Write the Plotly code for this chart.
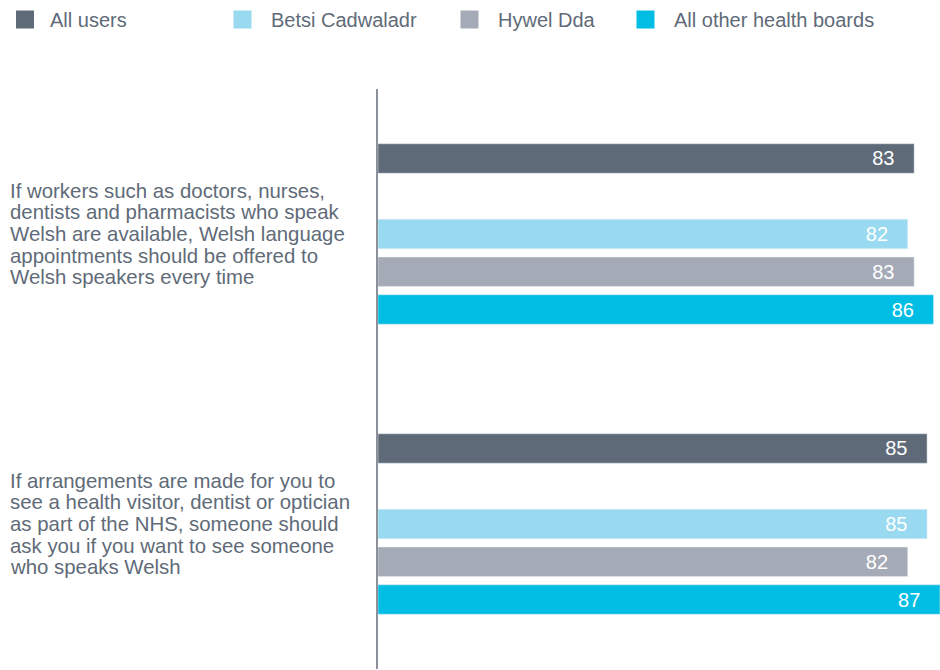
import plotly.graph_objects as go

questions = ["q1", "q2"]
question_lines = [
    ["If workers such as doctors, nurses,",
     "dentists and pharmacists who speak",
     "Welsh are available, Welsh language",
     "appointments should be offered to",
     "Welsh speakers every time"],
    ["If arrangements are made for you to",
     "see a health visitor, dentist or optician",
     "as part of the NHS, someone should",
     "ask you if you want to see someone",
     "who speaks Welsh"],
]
series_names = ["All users", "Betsi Cadwaladr", "Hywel Dda", "All other health boards"]
all_users = [83, 85]
betsi = [82, 85]
hywel = [83, 82]
other = [86, 87]
colors = ["#5e6a77", "#99daf0", "#a5abb6", "#00bde3"]

TEXT = "#5f6b78"
FONT = "Liberation Sans, Arial, sans-serif"
L, R, T, B = 378, 0, 89, 1
W, H = 940, 670
plot_w = W - L - R

fig = go.Figure()
values = [all_users, betsi, hywel, other]
legend_text_px = [50, 271, 498, 674]
legend_itemw = [40, 47, 47, 47]

def add_bar(i):
    fig.add_trace(go.Bar(
        y=questions, x=values[i], orientation="h", name=series_names[i],
        marker=dict(color=colors[i]),
        texttemplate="%{x}\u00a0\u00a0\u00a0", textposition="inside",
        insidetextanchor="end",
        textfont=dict(color="white", size=20, family=FONT),
        showlegend=False, hoverinfo="skip",
    ))

add_bar(0)
# empty slot between "All users" and the board bars
fig.add_trace(go.Bar(y=questions, x=[None, None], orientation="h",
                     showlegend=False, hoverinfo="skip"))
for i in range(1, 4):
    add_bar(i)

# legend entries (square swatches)
for i in range(4):
    lg = "legend" if i == 0 else f"legend{i+1}"
    fig.add_trace(go.Scatter(
        x=[None], y=[None], mode="markers", name=series_names[i],
        marker=dict(symbol="square", size=16, color=colors[i],
                    line=dict(color=colors[i], width=2)),
        legend=lg, showlegend=True, hoverinfo="skip",
    ))

layout_legends = {}
for i in range(4):
    key = "legend" if i == 0 else f"legend{i+1}"
    left_px = max(0, legend_text_px[i] - (legend_itemw[i] + 10))
    layout_legends[key] = dict(
        x=(left_px - L) / plot_w, xanchor="left",
        y=1.0, yref="container", yanchor="top",
        bgcolor="rgba(0,0,0,0)", itemwidth=legend_itemw[i],
        font=dict(size=20, color=TEXT, family=FONT),
    )

annotations = []
line_h = 21.7
for qi, lines in enumerate(question_lines):
    n = len(lines)
    for j, line in enumerate(lines):
        annotations.append(dict(
            x=(8 - L) / plot_w, xref="paper", xanchor="left",
            y=questions[qi], yref="y", yanchor="middle",
            yshift=((n - 1) / 2 - j) * line_h,
            text=line, showarrow=False, align="left",
            font=dict(size=20.4, color=TEXT, family=FONT),
        ))

fig.update_layout(
    width=W, height=H,
    margin=dict(l=L, r=R, t=T, b=B, pad=0),
    paper_bgcolor="white", plot_bgcolor="white",
    barmode="group", bargap=0.349, bargroupgap=0.22,
    font=dict(family=FONT, color=TEXT),
    xaxis=dict(visible=False, range=[0, 87], fixedrange=True),
    yaxis=dict(autorange="reversed", showticklabels=False, showgrid=False,
               zeroline=False, showline=True, linecolor="#8c9199",
               linewidth=1.5, ticks="", fixedrange=True),
    annotations=annotations,
    **layout_legends,
)

fig.write_html("out.html", config={"displayModeBar": False},
               post_script="document.body.style.margin='0';")
